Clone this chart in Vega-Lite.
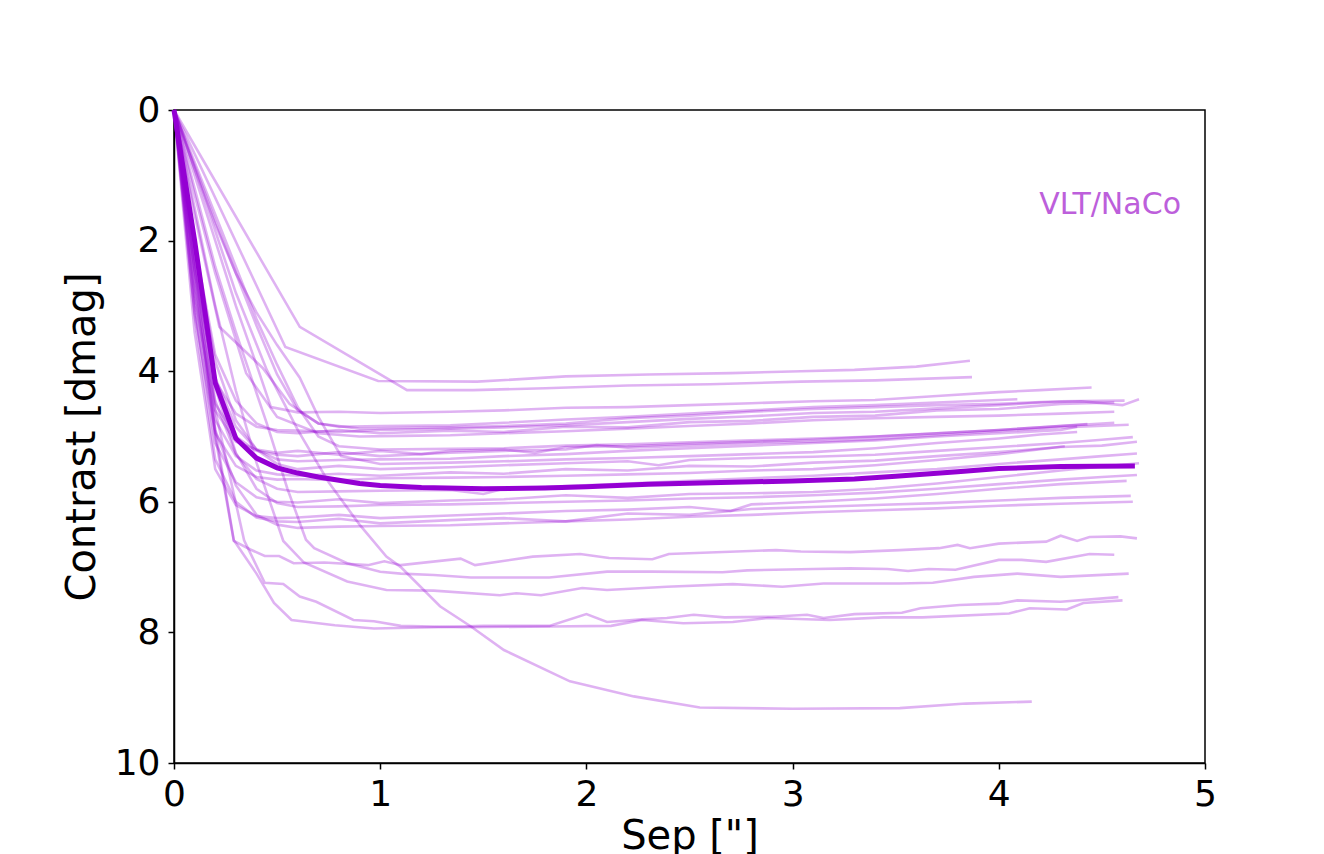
{
  "$schema": "https://vega.github.io/schema/vega-lite/v6.json",
  "width": 1031,
  "height": 653,
  "autosize": {"type": "none"},
  "padding": {"left": 174, "top": 110, "right": 119, "bottom": 91},
  "background": "white",
  "datasets": {
    "curves": [
      {"id": "A", "s": [0,0.61,1.13,1.45,1.8,2.2,2.6,3.04,3.4,3.87], "d": [0,3.32,4.29,4.29,4.26,4.22,4.2,4.16,4.14,4.09]},
      {"id": "B", "s": [0,0.54,0.99,1.47,1.9,2.3,2.7,3.04,3.3,3.6,3.86], "d": [0,3.63,4.15,4.16,4.08,4.05,4.03,4.0,3.98,3.93,3.84]},
      {"id": "L1", "s": [0,0.1,0.2,0.3,0.4,0.47,0.6,0.8,1.0,1.34,1.6,1.9,2.2,2.5,2.8,3.1,3.4,3.7,4.0,4.2,4.45], "d": [0,1.0,2.0,3.0,3.9,4.55,4.63,4.62,4.64,4.62,4.6,4.56,4.55,4.52,4.49,4.46,4.44,4.38,4.32,4.29,4.25]},
      {"id": "L2", "s": [0,0.1,0.2,0.3,0.4,0.5,0.6,0.7,0.8,1.0,1.34,1.6,1.9,2.2,2.5,2.8,3.1,3.4,3.7,4.09], "d": [0,0.85,1.7,2.5,3.3,4.05,4.6,4.8,4.85,4.84,4.83,4.79,4.74,4.7,4.65,4.6,4.55,4.52,4.48,4.43]},
      {"id": "L3", "s": [0,0.1,0.22,0.43,0.56,0.7,0.9,1.1,1.34,1.6,1.9,2.2,2.5,2.8,3.1,3.4,3.7,4.0,4.3,4.61], "d": [0,1.6,3.32,3.95,4.5,4.8,4.88,4.87,4.86,4.84,4.8,4.72,4.68,4.62,4.58,4.55,4.52,4.5,4.46,4.45]},
      {"id": "L4", "s": [0,0.1,0.2,0.3,0.4,0.5,0.6,0.8,1.0,1.34,1.6,1.9,2.2,2.5,2.8,3.1,3.4,3.7,4.0,4.2,4.4,4.6,4.68], "d": [0,2.45,4.15,4.65,4.85,4.9,4.91,4.93,4.9,4.88,4.86,4.83,4.78,4.73,4.69,4.64,4.62,4.57,4.52,4.48,4.46,4.52,4.43]},
      {"id": "L5", "s": [0,0.1,0.2,0.3,0.4,0.5,0.6,0.8,1.0,1.34,1.6,1.9,2.2,2.5,2.8,3.1,3.4,3.7,4.0,4.3,4.56], "d": [0,2.05,3.75,4.45,4.8,4.93,4.95,4.9,4.95,4.91,4.93,4.85,4.86,4.78,4.76,4.7,4.68,4.6,4.58,4.5,4.48]},
      {"id": "L6", "s": [0,0.1,0.2,0.35,0.5,0.7,0.9,1.1,1.34,1.6,1.9,2.2,2.5,2.8,3.1,3.4,3.7,4.0,4.3,4.56], "d": [0,1.3,2.5,4.03,4.7,4.95,5.0,4.99,4.98,4.95,4.92,4.88,4.84,4.8,4.75,4.72,4.7,4.68,4.65,4.62]},
      {"id": "L7", "s": [0,0.1,0.2,0.3,0.4,0.5,0.6,0.7,0.8,1.0,1.34,1.6,1.9,2.2,2.5,2.8,3.1,3.4,3.7,4.0,4.2,4.43], "d": [0,0.8,1.6,2.4,3.2,3.9,4.55,5.0,5.15,5.2,5.19,5.18,5.14,5.12,5.09,5.06,5.03,5.0,4.95,4.9,4.86,4.81]},
      {"id": "L8", "s": [0,0.1,0.2,0.3,0.4,0.5,0.6,0.8,1.0,1.2,1.34,1.6,1.75,1.9,2.2,2.5,2.8,3.1,3.4,3.7,4.0,4.3,4.56], "d": [0,2.9,4.6,5.08,5.2,5.25,5.22,5.28,5.22,5.27,5.22,5.2,5.25,5.16,5.15,5.11,5.08,5.05,5.0,4.95,4.9,4.84,4.79]},
      {"id": "L9", "s": [0,0.1,0.2,0.3,0.4,0.5,0.6,0.8,1.0,1.34,1.6,1.9,2.05,2.2,2.5,2.8,3.1,3.4,3.7,4.0,4.3,4.63], "d": [0,2.65,4.5,5.0,5.22,5.28,5.3,5.24,5.3,5.25,5.22,5.2,5.13,5.17,5.14,5.1,5.08,5.04,4.98,4.92,4.86,4.82]},
      {"id": "L10", "s": [0,0.1,0.2,0.3,0.4,0.5,0.6,0.8,1.0,1.34,1.6,1.9,2.2,2.5,2.8,3.1,3.4,3.7,4.0,4.3,4.38], "d": [0,2.25,4.1,4.85,5.2,5.35,5.38,5.36,5.35,5.34,5.3,5.27,5.22,5.18,5.14,5.1,5.06,5.0,4.95,4.9,4.85]},
      {"id": "L11", "s": [0,0.1,0.2,0.3,0.4,0.5,0.61,0.7,0.81,1.0,1.34,1.6,1.9,2.2,2.5,2.8,3.1,3.4,3.7,4.0,4.2,4.38], "d": [0,0.9,1.75,2.5,3.1,3.6,4.1,4.7,5.3,5.42,5.4,5.38,5.35,5.33,5.3,5.27,5.24,5.18,5.1,5.03,4.97,4.93]},
      {"id": "L12", "s": [0,0.1,0.2,0.3,0.4,0.5,0.6,0.8,1.0,1.34,1.6,1.9,2.2,2.35,2.5,2.8,3.1,3.4,3.7,4.0,4.3,4.5,4.65], "d": [0,2.1,3.85,4.75,5.2,5.42,5.5,5.45,5.5,5.47,5.44,5.41,5.38,5.44,5.36,5.33,5.31,5.28,5.22,5.16,5.1,5.05,5.01]},
      {"id": "L13", "s": [0,0.1,0.2,0.3,0.4,0.5,0.6,0.8,1.0,1.34,1.6,1.9,2.2,2.5,2.8,3.1,3.4,3.7,4.0,4.3,4.5,4.67], "d": [0,2.8,4.75,5.3,5.52,5.58,5.6,5.57,5.6,5.55,5.57,5.5,5.52,5.45,5.46,5.4,5.37,5.3,5.24,5.16,5.14,5.08]},
      {"id": "L14", "s": [0,0.1,0.2,0.3,0.4,0.5,0.6,0.8,1.0,1.34,1.6,1.9,2.2,2.5,2.8,3.1,3.4,3.7,4.0,4.32], "d": [0,3.1,4.95,5.45,5.62,5.66,5.65,5.67,5.64,5.63,5.62,5.6,5.58,5.56,5.52,5.5,5.44,5.36,5.27,5.15]},
      {"id": "L15", "s": [0,0.1,0.2,0.3,0.4,0.5,0.6,0.8,1.0,1.34,1.5,1.6,1.9,2.2,2.5,2.8,3.1,3.4,3.7,4.0,4.3,4.5,4.67], "d": [0,2.45,4.45,5.27,5.65,5.8,5.85,5.84,5.83,5.82,5.88,5.8,5.76,5.72,5.68,5.64,5.6,5.55,5.5,5.42,5.35,5.3,5.26]},
      {"id": "L16", "s": [0,0.1,0.2,0.3,0.4,0.5,0.6,0.8,1.0,1.34,1.6,1.9,2.2,2.5,2.8,3.1,3.4,3.7,4.0,4.3,4.5,4.68], "d": [0,3.0,5.1,5.7,5.93,6.0,6.01,5.96,6.02,5.98,5.96,5.9,5.94,5.88,5.87,5.85,5.8,5.72,5.62,5.52,5.46,5.41]},
      {"id": "L17", "s": [0,0.1,0.2,0.3,0.4,0.5,0.6,0.8,1.0,1.34,1.6,1.9,2.2,2.5,2.8,3.1,3.4,3.7,4.0,4.3,4.5,4.67], "d": [0,2.3,4.25,5.25,5.8,6.02,6.08,6.07,6.05,6.04,6.02,6.0,5.98,5.95,5.93,5.9,5.86,5.8,5.73,5.66,5.62,5.59]},
      {"id": "L18", "s": [0,0.1,0.2,0.3,0.4,0.5,0.6,0.8,1.0,1.34,1.6,1.9,2.2,2.5,2.7,2.8,3.1,3.4,3.7,4.0,4.3,4.62], "d": [0,3.4,5.5,6.05,6.22,6.25,6.24,6.2,6.25,6.21,6.18,6.14,6.12,6.08,6.14,6.04,6.0,5.95,5.88,5.8,5.73,5.68]},
      {"id": "L19", "s": [0,0.1,0.2,0.3,0.4,0.5,0.6,0.8,1.0,1.34,1.6,1.9,2.2,2.5,2.8,3.1,3.4,3.7,4.0,4.3,4.64], "d": [0,3.15,5.35,6.0,6.24,6.3,6.31,6.26,6.33,6.28,6.25,6.3,6.18,6.2,6.11,6.08,6.05,6.02,5.98,5.94,5.91]},
      {"id": "L20", "s": [0,0.1,0.2,0.3,0.4,0.5,0.6,0.8,1.0,1.34,1.6,1.9,2.2,2.5,2.8,3.1,3.4,3.7,4.0,4.3,4.65], "d": [0,2.7,4.9,5.75,6.2,6.35,6.4,6.38,6.37,6.36,6.33,6.3,6.27,6.23,6.2,6.16,6.13,6.1,6.06,6.03,6.0]},
      {"id": "E1", "s": [0,0.1,0.2,0.29,0.37,0.44,0.51,0.58,0.73,0.94,1.02,1.1,1.39,1.46,1.74,1.97,2.11,2.32,2.4,2.92,3.04,3.28,3.52,3.71,3.8,3.86,4.0,4.23,4.3,4.38,4.44,4.59,4.67], "d": [0,2.5,5.0,6.6,6.73,6.83,6.83,6.94,6.93,6.97,6.91,6.97,6.87,6.97,6.84,6.8,6.86,6.88,6.8,6.74,6.76,6.77,6.74,6.71,6.66,6.71,6.64,6.61,6.52,6.6,6.54,6.53,6.56]},
      {"id": "E2", "s": [0,0.1,0.2,0.3,0.4,0.53,0.63,0.84,1.03,1.26,1.58,1.66,1.78,1.98,2.1,2.39,2.71,2.95,3.15,3.52,3.68,3.88,4.09,4.3,4.63], "d": [0,1.5,3.0,4.3,5.4,6.6,6.93,7.22,7.35,7.36,7.43,7.4,7.43,7.32,7.35,7.3,7.26,7.3,7.25,7.25,7.24,7.15,7.1,7.15,7.1]},
      {"id": "E3", "s": [0,0.1,0.2,0.3,0.45,0.55,0.64,0.68,0.84,1.0,1.1,1.26,1.44,1.82,2.1,2.32,2.66,2.78,3.1,3.28,3.46,3.56,3.66,3.79,4.0,4.11,4.23,4.44,4.56], "d": [0,1.2,2.4,3.4,4.8,5.8,6.58,6.71,6.94,7.07,7.1,7.12,7.16,7.16,7.07,7.07,7.08,7.05,7.03,7.02,7.03,7.06,7.03,7.04,6.89,6.89,6.92,6.8,6.81]},
      {"id": "D1", "s": [0,0.1,0.2,0.29,0.4,0.485,0.57,0.78,0.97,1.26,1.5,1.82,2.0,2.1,2.27,2.39,2.52,2.67,2.9,3.07,3.15,3.3,3.53,3.62,3.81,4.0,4.09,4.3,4.58], "d": [0,2.4,4.9,6.59,7.1,7.55,7.81,7.89,7.94,7.92,7.9,7.9,7.72,7.84,7.8,7.78,7.73,7.77,7.76,7.73,7.78,7.72,7.7,7.63,7.58,7.56,7.51,7.53,7.46]},
      {"id": "D2", "s": [0,0.1,0.2,0.34,0.44,0.53,0.61,0.69,0.87,0.97,1.1,1.4,1.82,2.12,2.27,2.47,2.71,2.88,3.18,3.44,3.63,4.05,4.15,4.33,4.41,4.6], "d": [0,2.3,4.6,6.59,7.24,7.26,7.45,7.53,7.81,7.83,7.9,7.92,7.91,7.9,7.81,7.86,7.84,7.78,7.81,7.77,7.77,7.71,7.63,7.65,7.55,7.51]},
      {"id": "Deep", "s": [0,0.1,0.2,0.3,0.45,0.6,0.75,0.9,1.03,1.1,1.29,1.44,1.6,1.92,2.23,2.55,3.0,3.52,3.84,4.16], "d": [0,0.9,1.85,2.8,3.98,4.9,5.7,6.35,6.84,7.0,7.6,7.91,8.27,8.75,8.98,9.15,9.17,9.16,9.09,9.06]}
    ],
    "median": [
      {"id": "median", "s": [0,0.1,0.2,0.3,0.4,0.5,0.6,0.7,0.8,0.9,1.0,1.2,1.5,1.8,2.0,2.3,2.6,3.0,3.3,3.5,3.8,4.0,4.3,4.66], "d": [0,2.0,4.18,5.03,5.33,5.48,5.56,5.62,5.67,5.72,5.75,5.78,5.8,5.79,5.77,5.73,5.71,5.68,5.65,5.61,5.54,5.49,5.46,5.45]}
    ],
    "labels": [
      {"label": "VLT/NaCo"}
    ]
  },
  "config": {
    "view": {"stroke": "black", "strokeWidth": 1.5},
    "axis": {
      "grid": false,
      "domainColor": "black",
      "domainWidth": 1.5,
      "tickColor": "black",
      "tickWidth": 1.5,
      "tickSize": 6,
      "labelFont": "DejaVu Sans",
      "labelFontSize": 36,
      "labelColor": "black",
      "labelFlush": false,
      "labelOverlap": false,
      "labelPadding": 8,
      "titleFont": "DejaVu Sans",
      "titleFontSize": 40,
      "titleFontWeight": "normal",
      "titleColor": "black"
    }
  },
  "layer": [
    {
      "data": {"name": "curves"},
      "transform": [{"flatten": ["s", "d"]}],
      "mark": {"type": "line", "color": "#9400D3", "opacity": 0.3, "strokeWidth": 2.6},
      "encoding": {
        "x": {"field": "s", "type": "quantitative", "scale": {"domain": [0, 5], "nice": false},
              "axis": {"title": "Sep [\"]", "values": [0, 1, 2, 3, 4, 5], "format": "d", "titlePadding": 4}},
        "y": {"field": "d", "type": "quantitative", "scale": {"domain": [0, 10], "reverse": true, "nice": false},
              "axis": {"title": "Contrast [dmag]", "values": [0, 2, 4, 6, 8, 10], "format": "d", "titlePadding": 12}},
        "detail": {"field": "id"}
      }
    },
    {
      "data": {"name": "median"},
      "transform": [{"flatten": ["s", "d"]}],
      "mark": {"type": "line", "color": "#9400D3", "opacity": 1, "strokeWidth": 5},
      "encoding": {
        "x": {"field": "s", "type": "quantitative"},
        "y": {"field": "d", "type": "quantitative"},
        "detail": {"field": "id"}
      }
    },
    {
      "data": {"name": "labels"},
      "mark": {"type": "text", "font": "DejaVu Sans", "fontSize": 30, "color": "#bd5fdb", "align": "center", "baseline": "middle"},
      "encoding": {
        "x": {"datum": 4.54},
        "y": {"datum": 1.45},
        "text": {"field": "label", "type": "nominal"}
      }
    }
  ]
}
